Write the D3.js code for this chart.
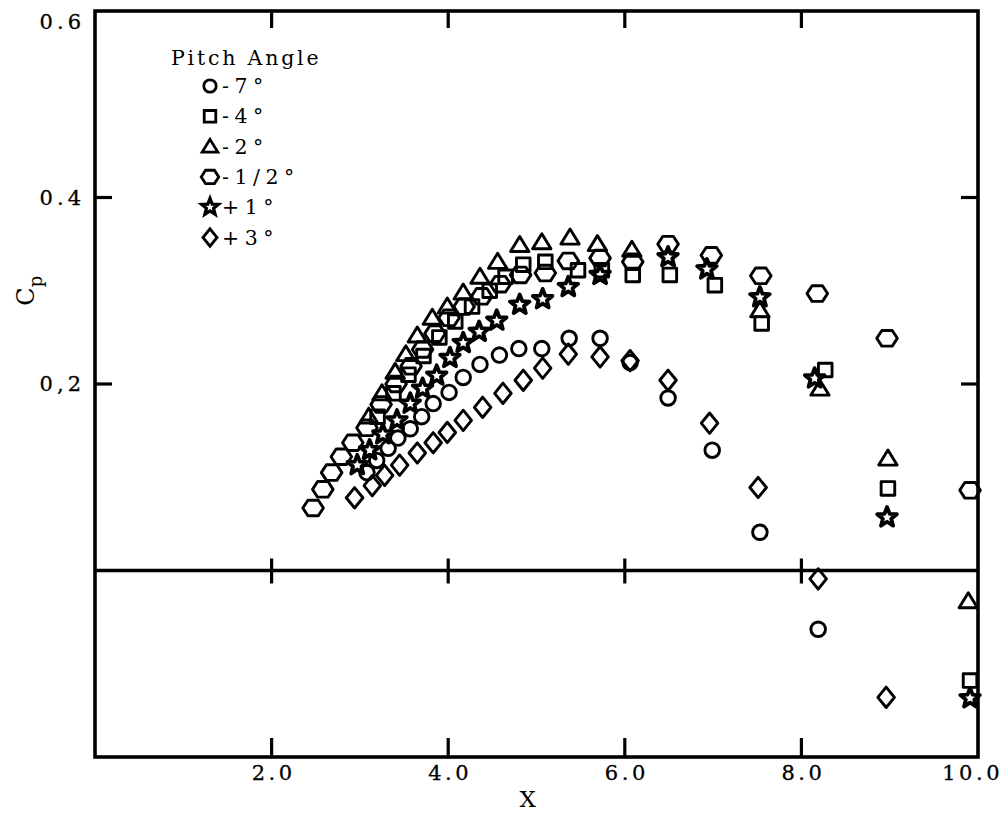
<!DOCTYPE html>
<html>
<head>
<meta charset="utf-8">
<script src="https://cdn.jsdelivr.net/npm/d3@7"></script>
<style>
  html, body { margin: 0; padding: 0; background: #fff; }
  svg { display: block; }
</style>
</head>
<body>
<svg id="chart" width="1006" height="815"></svg>
<script>
// ---------------- data ----------------
const seriesNames = ["-7°", "-4°", "-2°", "-1/2°", "+1°", "+3°"];
const seriesSymbols = ["circle", "square", "triangle", "hexagon", "star", "diamond"];

const m7X = [3.08,3.19,3.32,3.43,3.57,3.70,3.83,4.01,4.17,4.36,4.58,4.80,5.06,5.37,5.72,6.06,6.49,6.99,7.53,8.19];
const m7Y = [0.105,0.118,0.131,0.142,0.152,0.165,0.179,0.191,0.207,0.221,0.231,0.238,0.238,0.249,0.249,0.223,0.185,0.129,0.041,-0.063];

const m4X = [3.20,3.38,3.55,3.72,3.90,4.08,4.27,4.47,4.65,4.85,5.10,5.47,5.74,6.09,6.51,7.02,7.55,8.27,8.98,9.91];
const m4Y = [0.165,0.190,0.210,0.230,0.250,0.267,0.283,0.300,0.315,0.328,0.331,0.322,0.322,0.317,0.317,0.306,0.265,0.215,0.088,-0.118];

const m2X = [3.10,3.25,3.40,3.52,3.65,3.82,3.99,4.17,4.36,4.56,4.81,5.06,5.38,5.69,6.08,7.53,8.21,8.98,9.89];
const m2Y = [0.165,0.190,0.213,0.232,0.252,0.271,0.283,0.298,0.315,0.331,0.349,0.352,0.357,0.350,0.344,0.279,0.195,0.120,-0.033];

const mHalfX = [2.47,2.58,2.68,2.79,2.92,3.08,3.24,3.41,3.58,3.71,3.85,4.01,4.18,4.38,4.59,4.82,5.10,5.36,5.72,6.09,6.49,6.98,7.54,8.18,8.97,9.91];
const mHalfY = [0.067,0.087,0.105,0.122,0.137,0.153,0.178,0.200,0.219,0.237,0.254,0.271,0.283,0.294,0.307,0.317,0.319,0.332,0.335,0.331,0.350,0.338,0.316,0.297,0.249,0.086];

const p1X = [2.97,3.11,3.26,3.42,3.57,3.71,3.87,4.02,4.17,4.35,4.55,4.81,5.07,5.36,5.72,6.49,6.93,7.53,8.15,8.97,9.91];
const p1Y = [0.113,0.129,0.146,0.161,0.179,0.195,0.209,0.228,0.244,0.256,0.268,0.285,0.291,0.304,0.317,0.336,0.323,0.293,0.206,0.057,-0.137];

const p3X = [2.94,3.14,3.28,3.45,3.65,3.83,3.99,4.17,4.39,4.62,4.85,5.07,5.36,5.72,6.06,6.49,6.96,7.51,8.19,8.96];
const p3Y = [0.078,0.091,0.102,0.113,0.126,0.137,0.148,0.161,0.175,0.190,0.204,0.217,0.232,0.229,0.225,0.204,0.158,0.089,-0.009,-0.136];

const xTicks = [2, 4, 6, 8, 10];
const xTickLabels = ["2.0", "4.0", "6.0", "8.0", "10.0"];
const yTicks = [0.2, 0.4, 0.6];
const yTickLabels = ["0,2", "0.4", "0.6"];

const seriesX = [m7X, m4X, m2X, mHalfX, p1X, p3X];
const seriesY = [m7Y, m4Y, m2Y, mHalfY, p1Y, p3Y];

// ---------------- layout ----------------
const W = 1006;
const svg = d3.select("#chart");
const x = d3.scaleLinear().domain([0, 10]).range([95, 978]);
const y = d3.scaleLinear().domain([-0.2, 0.6]).range([757, 11]);

const INK = "#000";
const serifFont = "'DejaVu Serif', 'Liberation Serif', serif";

// marker shapes (centred on 0,0)
function shapePath(kind) {
  const p = d3.path();
  if (kind === "circle") {
    p.moveTo(7.3, 0); p.arc(0, 0, 7.3, 0, 2 * Math.PI); p.closePath();
  } else if (kind === "square") {
    p.rect(-6.8, -6.8, 13.6, 13.6);
  } else if (kind === "triangle") {
    p.moveTo(0, -8.5); p.lineTo(9.2, 6.5); p.lineTo(-9.2, 6.5); p.closePath();
  } else if (kind === "hexagon") {
    const w = 10.3, h = 7.8, s = 5.2;
    p.moveTo(-w, 0); p.lineTo(-s, -h); p.lineTo(s, -h); p.lineTo(w, 0); p.lineTo(s, h); p.lineTo(-s, h); p.closePath();
  } else if (kind === "star") {
    const R = 10.3, r = 4.4;
    for (let i = 0; i < 10; i++) {
      const a = -Math.PI / 2 + i * Math.PI / 5;
      const rr = i % 2 === 0 ? R : r;
      if (i === 0) p.moveTo(rr * Math.cos(a), rr * Math.sin(a));
      else p.lineTo(rr * Math.cos(a), rr * Math.sin(a));
    }
    p.closePath();
  } else if (kind === "diamond") {
    p.moveTo(0, -10.2); p.lineTo(8.3, 0); p.lineTo(0, 10.2); p.lineTo(-8.3, 0); p.closePath();
  }
  return p.toString();
}

// ---------------- frame and axes ----------------
const g = svg.append("g");
const x0 = x(0), x1 = x(10), yTop = y(0.6), yBot = y(-0.2), yZero = y(0);

g.append("rect")
  .attr("x", x0).attr("y", yTop)
  .attr("width", x1 - x0).attr("height", yBot - yTop)
  .attr("fill", "none").attr("stroke", INK).attr("stroke-width", 3.6);

g.append("line")
  .attr("x1", x0).attr("x2", x1).attr("y1", yZero).attr("y2", yZero)
  .attr("stroke", INK).attr("stroke-width", 3.4);

const innerX = xTicks.filter(v => v < 10);
g.selectAll(".tt").data(innerX).enter().append("line")
  .attr("x1", d => x(d)).attr("x2", d => x(d))
  .attr("y1", yTop).attr("y2", yTop + 17)
  .attr("stroke", INK).attr("stroke-width", 3.2);
g.selectAll(".bt").data(innerX).enter().append("line")
  .attr("x1", d => x(d)).attr("x2", d => x(d))
  .attr("y1", yBot).attr("y2", yBot - 19)
  .attr("stroke", INK).attr("stroke-width", 3.2);
g.selectAll(".zt").data(innerX).enter().append("line")
  .attr("x1", d => x(d)).attr("x2", d => x(d))
  .attr("y1", yZero - 12).attr("y2", yZero + 13)
  .attr("stroke", INK).attr("stroke-width", 3.2);
const innerY = yTicks.filter(v => v < 0.6);
g.selectAll(".lt").data(innerY).enter().append("line")
  .attr("x1", x0).attr("x2", x0 + 17)
  .attr("y1", d => y(d)).attr("y2", d => y(d))
  .attr("stroke", INK).attr("stroke-width", 3.2);
g.selectAll(".rt").data(innerY).enter().append("line")
  .attr("x1", x1).attr("x2", x1 - 17)
  .attr("y1", d => y(d)).attr("y2", d => y(d))
  .attr("stroke", INK).attr("stroke-width", 3.2);

// tick labels
const xl = g.selectAll(".xl").data(xTicks).enter().append("text")
  .attr("x", d => x(d) + 2).attr("y", yBot + 23)
  .attr("text-anchor", "middle")
  .attr("font-family", serifFont).attr("font-size", 21)
  .attr("stroke", INK).attr("stroke-width", 0.3)
  .attr("letter-spacing", 3.5)
  .attr("fill", INK)
  .text((d, i) => xTickLabels[i]);
// keep the last label inside the picture
xl.each(function () {
  const bb = this.getBBox();
  const over = bb.x + bb.width - (W - 3);
  if (over > 0) d3.select(this).attr("x", +d3.select(this).attr("x") - over);
});

g.selectAll(".yl").data(yTicks).enter().append("text")
  .attr("x", x0 - 10)
  .attr("y", d => Math.max(y(d), yTop + 11) + 7)
  .attr("text-anchor", "end")
  .attr("font-family", serifFont).attr("font-size", 21)
  .attr("stroke", INK).attr("stroke-width", 0.3)
  .attr("letter-spacing", 4)
  .attr("fill", INK)
  .text((d, i) => yTickLabels[i]);

// axis titles
g.append("text")
  .attr("x", x(4.9)).attr("y", yBot + 50)
  .attr("text-anchor", "middle")
  .attr("font-family", serifFont).attr("font-size", 23)
  .attr("fill", INK).text("X");

const yt = g.append("text")
  .attr("transform", `translate(34, ${y(0.3)}) rotate(-90)`)
  .attr("text-anchor", "middle")
  .attr("font-family", serifFont).attr("font-size", 24)
  .attr("fill", INK);
yt.append("tspan").text("C");
yt.append("tspan").attr("font-size", 18).attr("dy", 8).text("p");

// ---------------- data points ----------------
seriesSymbols.forEach((kind, si) => {
  const pts = seriesX[si].map((v, i) => ({ x: v, y: seriesY[si][i] }));
  g.append("g").selectAll("path").data(pts).enter().append("path")
    .attr("d", shapePath(kind))
    .attr("transform", d => `translate(${x(d.x)},${y(d.y)})`)
    .attr("fill", "none")
    .attr("stroke", INK)
    .attr("stroke-width", kind === "star" ? 3.8 : 2.9)
    .attr("stroke-linejoin", "round");
});

// ---------------- legend ----------------
const lg = g.append("g");
lg.append("text")
  .attr("x", 171).attr("y", 65)
  .attr("font-family", serifFont).attr("font-size", 20.5)
  .attr("letter-spacing", 2.8)
  .attr("fill", INK).text("Pitch Angle");

seriesNames.forEach((name, i) => {
  const cy = 86 + i * 30.3;
  lg.append("path")
    .attr("d", shapePath(seriesSymbols[i]))
    .attr("transform", `translate(210,${cy}) scale(0.85)`)
    .attr("fill", "none").attr("stroke", INK)
    .attr("stroke-width", seriesSymbols[i] === "star" ? 3.8 : 3.3);
  lg.append("text")
    .attr("x", 222).attr("y", cy + 7)
    .attr("font-family", serifFont).attr("font-size", 20.5)
    .attr("letter-spacing", 5.5)
    .attr("fill", INK).text(name);
});
</script>
</body>
</html>
